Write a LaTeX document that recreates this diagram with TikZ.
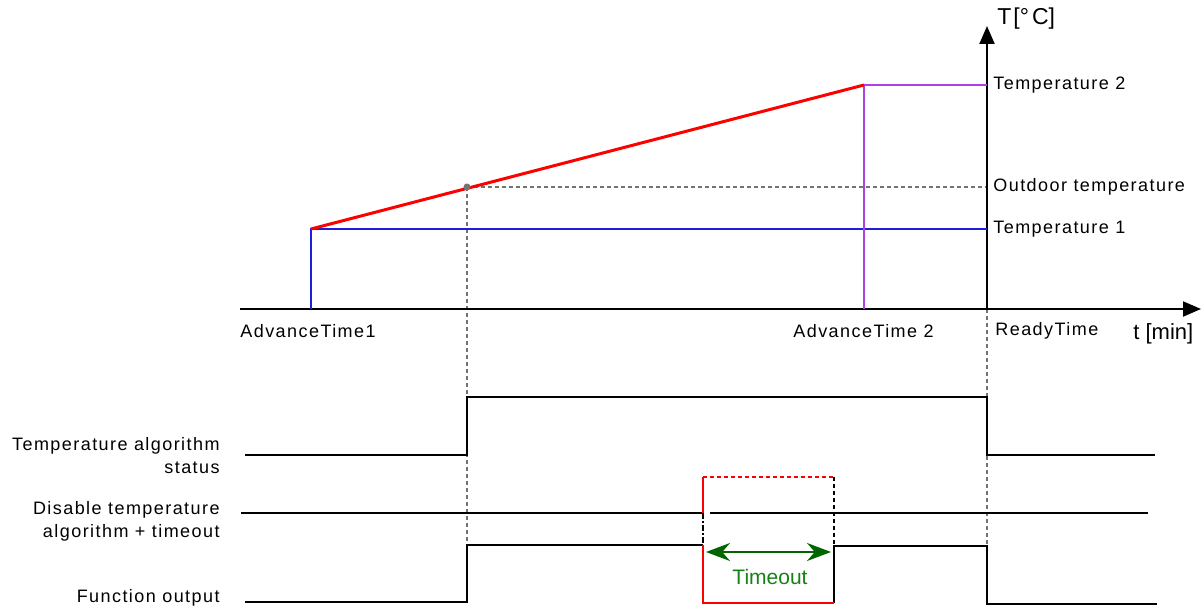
\documentclass[tikz,border=0pt]{standalone}
\usepackage{fontspec}
\setmainfont{Liberation Sans}
\newfontfamily\spacedfont[LetterSpace=8]{Liberation Sans}
\usetikzlibrary{arrows.meta}
\definecolor{tempone}{RGB}{30,30,220}
\definecolor{temptwo}{RGB}{176,64,224}
\definecolor{tmgreen}{RGB}{0,100,0}
\definecolor{tmtext}{RGB}{20,130,20}
\definecolor{guidegray}{RGB}{115,115,115}
\tikzset{
  lbl/.style={font=\spacedfont\fontsize{9}{11.5}\selectfont, inner sep=0pt},
  unitlbl/.style={font=\fontsize{11}{13}\selectfont, inner sep=0pt},
  axis/.style={line width=1pt, -{Triangle[length=9pt,width=7.5pt]}},
  guide/.style={guidegray, line width=0.6pt, dash pattern=on 2pt off 1.5pt},
  signal/.style={line width=0.8pt},
  outsignal/.style={line width=1.1pt},
}
\begin{document}
\begin{tikzpicture}[x=0.5pt,y=-0.5pt]
\useasboundingbox (0,0) rectangle (1204,608);
% dashed guide lines
\draw[guide] (467,187) -- (987,187);
\draw[guide] (467,187) -- (467,545);
\draw[guide] (987,309) -- (987,546);
% axes
\coordinate (origin) at (987,309);
\draw[axis] (240,309) -- (1201,309);
\draw[axis] (origin) -- (987,26);
\node[unitlbl, font=\fontsize{11.5}{13}\selectfont, anchor=west] (tlabel) at (997,19) {T\kern1pt[°\kern1.5pt C]};
\node[unitlbl, anchor=west] (tmin) at (1133,334) {t [min]};
% temperature levels
\draw[tempone, line width=0.8pt] (311,309) -- (311,229) -- (987,229);
\draw[temptwo, line width=0.8pt] (864,309) -- (864,85) -- (987,85);
\draw[red, line width=1.5pt] (311,229) -- (864,85);
\fill[guidegray] (467,187) circle (3.5);
\node[lbl, anchor=west] (ttwo) at (993,85) {Temperature 2};
\node[lbl, anchor=west] (tout) at (993,187) {Outdoor temperature};
\node[lbl, anchor=west] (tone) at (993,229) {Temperature 1};
\node[lbl, anchor=west] (adv1) at (240,331) {AdvanceTime1};
\node[lbl, anchor=west] (adv2) at (793,331) {AdvanceTime 2};
\node[lbl, anchor=west] (ready) at (995,331) {ReadyTime};
% signal names
\node[lbl, anchor=east, align=right] (status) at (220,456) {Temperature algorithm\\status};
\node[lbl, anchor=east, align=right] (disable) at (220,521) {Disable temperature\\algorithm + timeout};
\node[lbl, anchor=east] (output) at (220,598) {Function output};
% signals
\draw[signal] (245,455) -- (467,455) -- (467,397) -- (987,397) -- (987,455) -- (1155,455);
\draw[signal] (241,513) -- (703,513);
\draw[signal] (710,513) -- (1148,513);
\draw[outsignal] (245,602) -- (467,602) -- (467,545) -- (703,545);
\draw[outsignal] (834,603) -- (834,546) -- (987,546) -- (987,604) -- (1157,604);
% timeout window
\draw[red, outsignal] (703,545) -- (703,603) -- (834,603);
\draw[red, line width=1pt] (703,513) -- (703,477);
\draw[red, line width=0.6pt, dash pattern=on 2pt off 1.5pt] (703,477) -- (834,477);
\draw[line width=0.6pt, dash pattern=on 2pt off 1.5pt] (834,477) -- (834,546);
\draw[line width=0.6pt, dash pattern=on 3pt off 1pt on 1pt off 1pt] (703,513) -- (703,545);
\draw[tmgreen, line width=1.1pt, {Stealth[length=12pt,width=9pt]}-{Stealth[length=12pt,width=9pt]}] (706,552) -- (831,552);
\node[font=\fontsize{10.5}{12}\selectfont, text=tmtext, inner sep=0pt] (timeout) at (770,577) {Timeout};
\end{tikzpicture}
\end{document}
